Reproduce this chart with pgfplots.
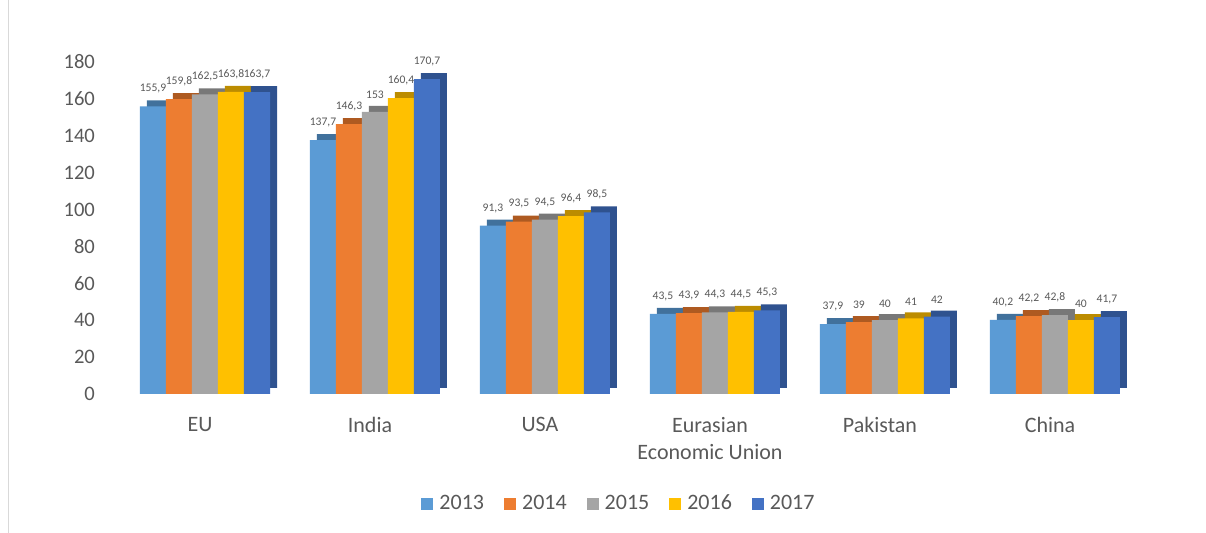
\documentclass[border=0pt]{standalone}
\usepackage{pgfplots}
\pgfplotsset{compat=1.18}
\usepackage{pgfplotstable}
\usepackage{fontspec}
\setmainfont{Carlito}
\definecolor{cA}{HTML}{5B9BD5}\definecolor{cAd}{HTML}{41719C}
\definecolor{cB}{HTML}{ED7D31}\definecolor{cBd}{HTML}{AE5A21}
\definecolor{cC}{HTML}{A5A5A5}\definecolor{cCd}{HTML}{787878}
\definecolor{cD}{HTML}{FFC000}\definecolor{cDd}{HTML}{BC8C00}
\definecolor{cE}{HTML}{4472C4}\definecolor{cEd}{HTML}{2F528F}
\definecolor{txt}{HTML}{595959}
\pgfplotstableread{
x a b c d e
0 155.9 159.8 162.5 163.8 163.7
1 137.7 146.3 153 160.4 170.7
2 91.3 93.5 94.5 96.4 98.5
3 43.5 43.9 44.3 44.5 45.3
4 37.9 39 40 41 42
5 40.2 42.2 42.8 40 41.7
}\data
\begin{document}
\begin{tikzpicture}
\path[use as bounding box] (0,0) rectangle (603pt,266.5pt);
\draw[gray!30] (4pt,0) -- (4pt,266.5pt);
\begin{axis}[
  at={(60pt,69.5pt)}, anchor=south west,
  scale only axis, width=510pt, height=166pt,
  xmin=-0.5, xmax=5.5, ymin=0, ymax=180,
  ytick={0,20,...,180},
  xtick={0,...,5},
  /pgf/number format/assume math mode=true,
  xticklabels={EU,India,USA,{Eurasian\\Economic Union},Pakistan,China},
  xticklabel style={align=center, font=\fontsize{11}{13.5}\selectfont, text=txt, yshift=-4pt, xshift=-2.5pt},
  yticklabel style={font=\fontsize{10.3}{12}\selectfont, text=txt, xshift=-9pt},
  axis line style={draw=none},
  major tick style={draw=none},
  clip=false,
  ybar, bar width=13pt,
  nodes near coords,
  every node near coord/.append style={font=\fontsize{5.8}{6}\selectfont, text=txt, yshift=3pt, xshift=0pt,
    /pgf/number format/.cd, fixed, precision=1, use comma, assume math mode=true},
  legend style={at={(250pt,-55pt)}, anchor=center, draw=none, legend columns=5,
    font=\fontsize{11}{12}\selectfont, text=txt,
    /tikz/every even column/.append style={column sep=8pt},
    /tikz/every odd column/.append style={column sep=1pt}},
  legend image code/.code={\fill[#1] (0pt,-3pt) rectangle (6pt,3pt);},
]
\addplot[bar shift=-26pt, fill=cAd, draw=none, xshift=3.5pt, yshift=3pt, forget plot, nodes near coords={}] table[x=x,y=a]{\data};
\addplot[bar shift=-26pt, fill=cA, draw=none] table[x=x,y=a]{\data};
\addlegendentry{2013}
\addplot[bar shift=-13pt, fill=cBd, draw=none, xshift=3.5pt, yshift=3pt, forget plot, nodes near coords={}] table[x=x,y=b]{\data};
\addplot[bar shift=-13pt, fill=cB, draw=none] table[x=x,y=b]{\data};
\addlegendentry{2014}
\addplot[bar shift=0pt, fill=cCd, draw=none, xshift=3.5pt, yshift=3pt, forget plot, nodes near coords={}] table[x=x,y=c]{\data};
\addplot[bar shift=0pt, fill=cC, draw=none] table[x=x,y=c]{\data};
\addlegendentry{2015}
\addplot[bar shift=13pt, fill=cDd, draw=none, xshift=3.5pt, yshift=3pt, forget plot, nodes near coords={}] table[x=x,y=d]{\data};
\addplot[bar shift=13pt, fill=cD, draw=none] table[x=x,y=d]{\data};
\addlegendentry{2016}
\addplot[bar shift=26pt, fill=cEd, draw=none, xshift=3.5pt, yshift=3pt, forget plot, nodes near coords={}] table[x=x,y=e]{\data};
\addplot[bar shift=26pt, fill=cE, draw=none] table[x=x,y=e]{\data};
\addlegendentry{2017}
\end{axis}
\end{tikzpicture}
\end{document}
